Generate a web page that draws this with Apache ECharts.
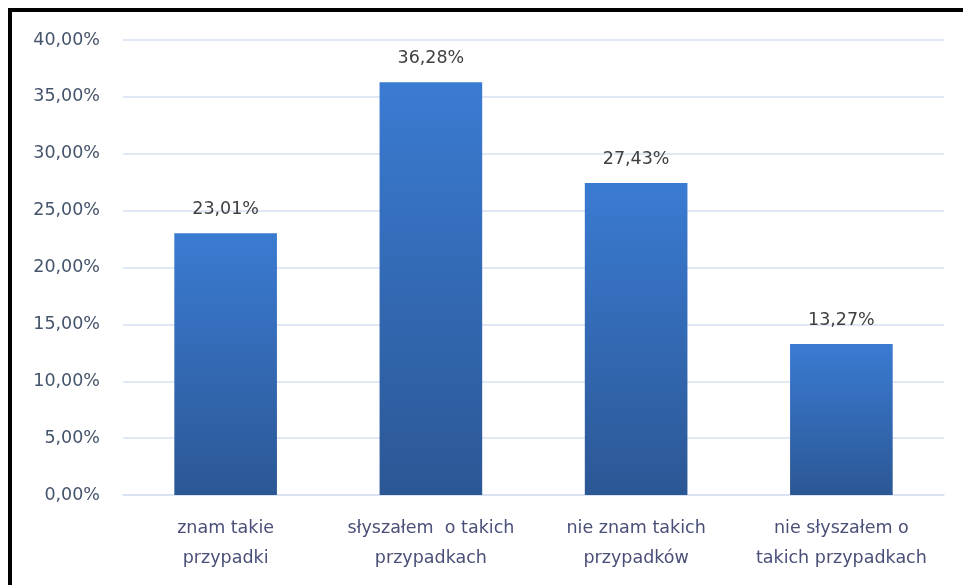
<!DOCTYPE html>
<html>
<head>
<meta charset="utf-8">
<script src="https://cdn.jsdelivr.net/npm/echarts@6/dist/echarts.min.js"></script>
<style>
html,body{margin:0;padding:0;background:#fff;}
#frame{position:absolute;left:8px;top:8px;width:960px;height:590px;border-left:4px solid #000;border-top:4px solid #000;box-sizing:border-box;}
#chart{position:absolute;left:0;top:0;width:963px;height:585px;}
</style>
</head>
<body>
<div id="chart"></div>
<div id="frame"></div>
<script>
const categories = ['znam takie\nprzypadki', 'słyszałem  o takich\nprzypadkach', 'nie znam takich\nprzypadków', 'nie słyszałem o\ntakich przypadkach'];
const values = [23.01, 36.28, 27.43, 13.27];
const yTicks = { min: 0, max: 40, interval: 5 };

const fmt = v => v.toFixed(2).replace('.', ',') + '%';
const chart = echarts.init(document.getElementById('chart'), null, {renderer: 'canvas'});
chart.setOption({
  animation: false,
  backgroundColor: '#fff',
  grid: { left: 123, right: 19, top: 40, bottom: 90 },
  xAxis: {
    type: 'category',
    data: categories,
    axisLine: { lineStyle: { color: '#d6e1f3', width: 1.5 } },
    axisTick: { show: false },
    axisLabel: { color: '#4a4f78', fontFamily: 'DejaVu Sans', fontSize: 17.5, lineHeight: 30, margin: 18, interval: 0 }
  },
  yAxis: {
    type: 'value',
    min: yTicks.min, max: yTicks.max, interval: yTicks.interval,
    axisLine: { show: false },
    axisTick: { show: false },
    splitLine: { lineStyle: { color: '#d6e1f3', width: 1.5 } },
    axisLabel: { color: '#44546a', fontFamily: 'DejaVu Sans', fontSize: 17.5, margin: 23, formatter: v => fmt(v) }
  },
  series: [{
    type: 'bar',
    data: values,
    barCategoryGap: '50%',
    itemStyle: {
      color: new echarts.graphic.LinearGradient(0, 0, 0, 1, [
        { offset: 0, color: '#3a7bd2' },
        { offset: 1, color: '#2c5795' }
      ])
    },
    label: { show: true, position: 'top', distance: 15, color: '#404040', fontFamily: 'DejaVu Sans', fontSize: 17.5, formatter: p => fmt(p.value) }
  }]
});
</script>
</body>
</html>
